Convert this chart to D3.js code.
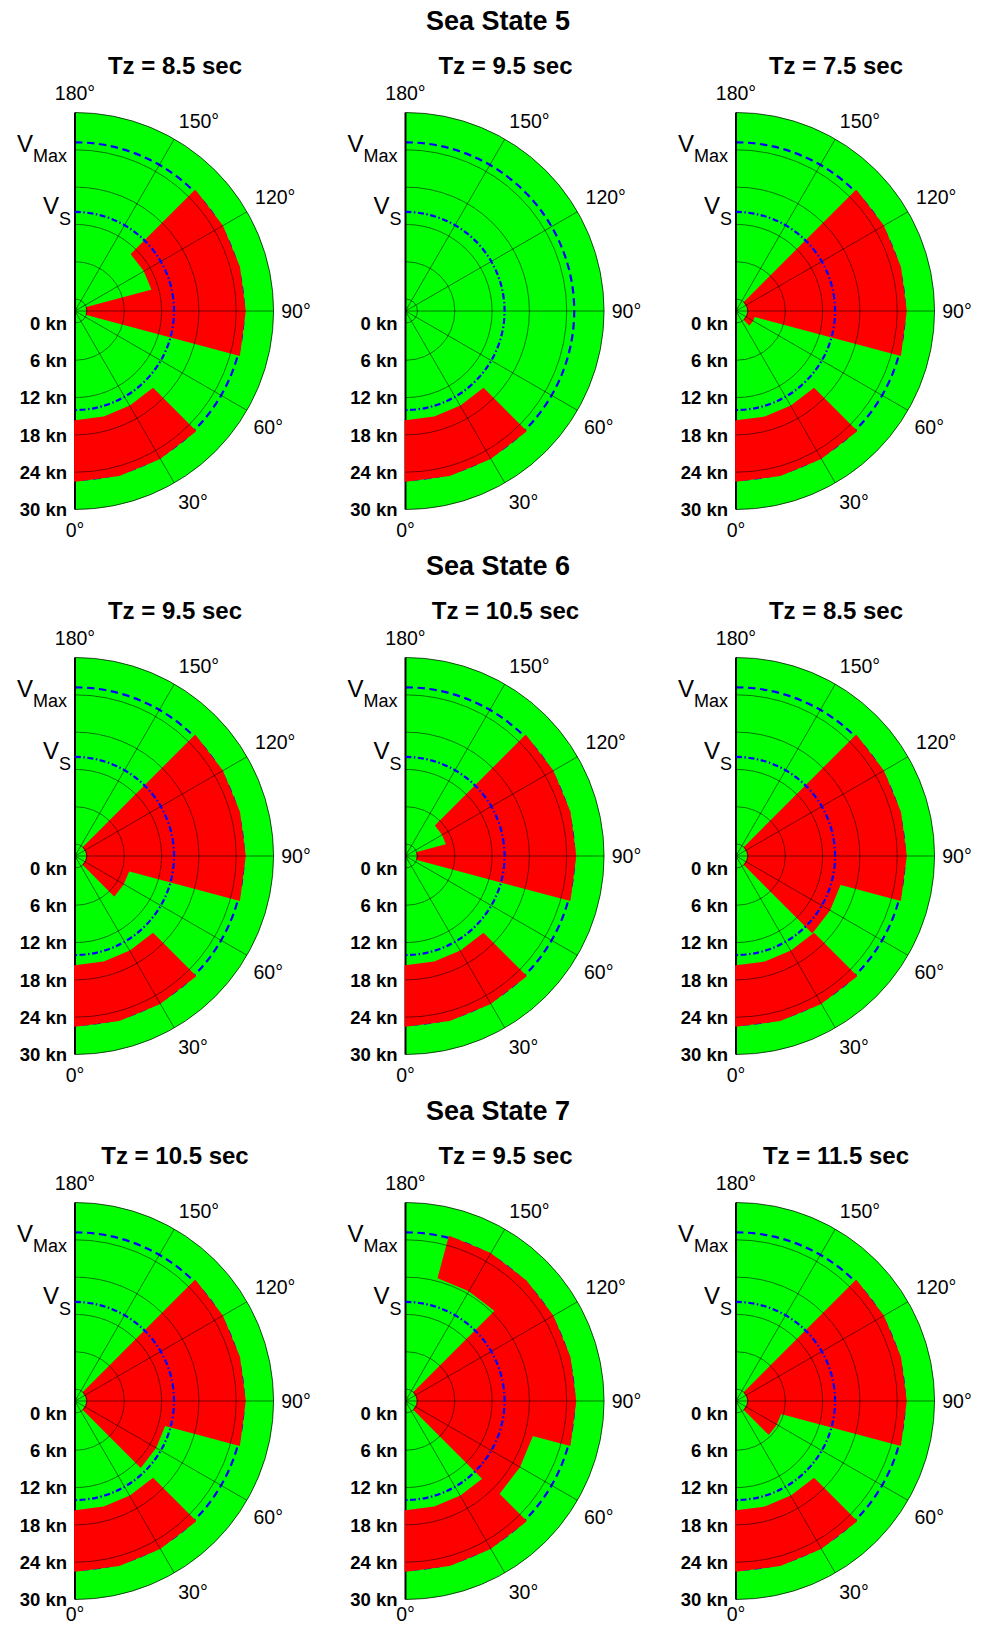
<!DOCTYPE html>
<html>
<head>
<meta charset="utf-8">
<script src="https://cdn.jsdelivr.net/npm/d3@7"></script>
<style>
  body { margin: 0; background: #fff; }
  svg text { font-family: "Liberation Sans", Arial, Helvetica, sans-serif; fill: #000; }
</style>
</head>
<body>
<div id="chart"></div>
<script>
// Operability polar plots: red = limit exceeded, green = safe

const seaStates = ['Sea State 5', 'Sea State 6', 'Sea State 7'];
const tzPeriods = [[8.5, 9.5, 7.5], [9.5, 10.5, 8.5], [10.5, 9.5, 11.5]];
const speedTicks = [0, 6, 12, 18, 24, 30];
const headingTicks = [0, 30, 60, 90, 120, 150, 180];
const vServiceKn = 14;
const vMaxKn = 25.2;

// red cells: [heading from, heading to, speed from, speed to]
const cellsSS5Tz85 = [[0, 45, 15.8, 25.4], [75, 105, 0, 25.4], [105, 135, 11, 25.4]];
const cellsSS5Tz95 = [[0, 45, 15.8, 25.4]];
const cellsSS5Tz75 = [[0, 45, 15.8, 25.4], [45, 75, 0, 1.1], [75, 135, 0, 25.4]];
const cellsSS6Tz95 = [[0, 45, 15.8, 25.4], [45, 75, 0, 7], [75, 135, 0, 25.4]];
const cellsSS6Tz105 = [[0, 45, 15.8, 25.4], [75, 105, 0, 25.4], [105, 135, 5, 25.4]];
const cellsSS6Tz85 = [[0, 45, 15.8, 25.4], [45, 75, 0, 15.4], [75, 135, 0, 25.4]];
const cellsSS7Tz105 = [[0, 45, 15.8, 25.4], [45, 75, 0, 13], [75, 135, 0, 25.4]];
const cellsSS7Tz95 = [[0, 45, 15.8, 25.4], [45, 75, 0, 19.2], [75, 135, 0, 25.4], [135, 165, 18.6, 25.4]];
const cellsSS7Tz115 = [[0, 45, 15.8, 25.4], [45, 75, 0, 5.5], [75, 135, 0, 25.4]];

const panelCells = [
    [cellsSS5Tz85, cellsSS5Tz95, cellsSS5Tz75],
    [cellsSS6Tz95, cellsSS6Tz105, cellsSS6Tz85],
    [cellsSS7Tz105, cellsSS7Tz95, cellsSS7Tz115]
];

const width = 988, height = 1627;
const colX = [75, 405.5, 736];
const rowY = [311, 856, 1401];
const R = 198.5;
const labelR = 222;
// small nudges so the heading labels sit like the original (px)
const labelNudge = { 0: [0, -3], 30: [7, -1], 60: [1, 5], 90: [-1, 0], 120: [8, -3], 150: [13, 2], 180: [0, 4] };

const rad = d3.scaleLinear().domain([0, 30]).range([12, R]);
// heading 0 at bottom, 90 to the right, 180 at top
const ang = d3.scaleLinear().domain([0, 180]).range([Math.PI, 0]);

const svg = d3.select('#chart').append('svg')
    .attr('width', width)
    .attr('height', height);

svg.append('rect').attr('width', width).attr('height', height).attr('fill', '#fff');

function halfCircle(r) {
    const p = d3.path();
    p.moveTo(0, -r);
    p.arc(0, 0, r, -Math.PI / 2, Math.PI / 2);
    return p.toString();
}

function polar(h, r) {
    const a = ang(h);
    return [r * Math.sin(a), -r * Math.cos(a)];
}

const cellLine = d3.lineRadial()
    .angle(d => ang(d[0]))
    .radius(d => rad(d[1]));

function cellPath(c) {
    const [h0, h1, v0, v1] = c;
    const hs = [h0];
    for (let h = Math.ceil(h0 / 15) * 15; h < h1; h += 15) if (h > h0) hs.push(h);
    hs.push(h1);
    const pts = hs.map(h => [h, v1]).concat(hs.slice().reverse().map(h => [h, v0]));
    return cellLine(pts) + 'Z';
}

seaStates.forEach((ss, i) => {
    svg.append('text')
        .attr('x', 498)
        .attr('y', rowY[i] - 290)
        .attr('dy', '0.35em')
        .attr('text-anchor', 'middle')
        .attr('font-size', '27px')
        .attr('font-weight', 'bold')
        .text(ss);

    tzPeriods[i].forEach((tz, j) => {
        const g = svg.append('g')
            .attr('transform', `translate(${colX[j]},${rowY[i]})`);

        g.append('text')
            .attr('x', 100)
            .attr('y', -245)
            .attr('dy', '0.35em')
            .attr('text-anchor', 'middle')
            .attr('font-size', '24px')
            .attr('font-weight', 'bold')
            .text(`Tz = ${tz} sec`);

        // green safe area
        g.append('path')
            .attr('d', halfCircle(R) + 'Z')
            .attr('fill', '#00ff00');

        // Vmax (under the red cells)
        g.append('path')
            .attr('d', halfCircle(rad(vMaxKn)))
            .attr('fill', 'none')
            .attr('stroke', '#0000ff')
            .attr('stroke-width', 2.2)
            .attr('stroke-dasharray', '7.5,4.5');

        // axis line
        g.append('line')
            .attr('x1', 0).attr('x2', 0)
            .attr('y1', -R).attr('y2', R)
            .attr('stroke', '#000')
            .attr('stroke-width', 2);

        // red cells
        g.selectAll('path.cell')
            .data(panelCells[i][j])
            .join('path')
            .attr('class', 'cell')
            .attr('d', cellPath)
            .attr('fill', '#ff0000')
            .attr('stroke', '#ff0000')
            .attr('stroke-width', 1.8)
            .attr('stroke-linejoin', 'round');

        // grid
        g.selectAll('path.ring')
            .data(speedTicks)
            .join('path')
            .attr('class', 'ring')
            .attr('d', v => halfCircle(rad(v)))
            .attr('fill', 'none')
            .attr('stroke', '#000')
            .attr('stroke-opacity', v => v === 30 ? 0.8 : 0.6)
            .attr('stroke-width', 0.9);

        g.selectAll('line.spoke')
            .data(headingTicks.filter(h => h > 0 && h < 180))
            .join('line')
            .attr('class', 'spoke')
            .attr('x1', 0).attr('y1', 0)
            .attr('x2', h => polar(h, R)[0])
            .attr('y2', h => polar(h, R)[1])
            .attr('stroke', '#000')
            .attr('stroke-opacity', 0.6)
            .attr('stroke-width', 0.9);

        // Vs line
        g.append('path')
            .attr('d', halfCircle(rad(vServiceKn)))
            .attr('fill', 'none')
            .attr('stroke', '#0000ff')
            .attr('stroke-width', 2.2)
            .attr('stroke-dasharray', '6,2.5,1.5,2.5');

        // heading labels (kept inside the page at the bottom row)
        const maxY = height - 13 - rowY[i];
        g.selectAll('text.hdg')
            .data(headingTicks)
            .join('text')
            .attr('class', 'hdg')
            .attr('x', h => polar(h, labelR)[0] + labelNudge[h][0])
            .attr('y', h => Math.min(polar(h, labelR)[1] + labelNudge[h][1], maxY))
            .attr('dy', '0.35em')
            .attr('text-anchor', 'middle')
            .attr('font-size', '19.5px')
            .text(h => h + '°');

        // speed labels
        g.selectAll('text.spd')
            .data(speedTicks)
            .join('text')
            .attr('class', 'spd')
            .attr('x', -8)
            .attr('y', v => rad(v))
            .attr('dy', '0.36em')
            .attr('text-anchor', 'end')
            .attr('font-size', '18.5px')
            .attr('font-weight', 'bold')
            .text(v => v + ' kn');

        // V_Max and V_S labels
        const tMax = g.append('text')
            .attr('x', -8)
            .attr('y', -rad(vMaxKn) + 10)
            .attr('text-anchor', 'end');
        tMax.append('tspan').attr('font-size', '24px').text('V');
        tMax.append('tspan').attr('font-size', '18px').attr('dy', 10).text('Max');

        const tS = g.append('text')
            .attr('x', -4)
            .attr('y', -rad(vServiceKn) + 2.5)
            .attr('text-anchor', 'end');
        tS.append('tspan').attr('font-size', '24px').text('V');
        tS.append('tspan').attr('font-size', '18px').attr('dy', 11).text('S');
    });
});
</script>
</body>
</html>
